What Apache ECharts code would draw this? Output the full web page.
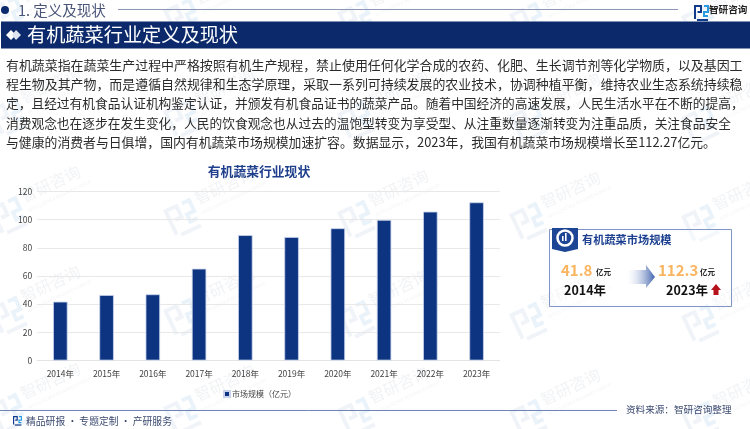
<!DOCTYPE html>
<html>
<head>
<meta charset="utf-8">
<style>
  html, body { margin: 0; padding: 0; background: #fff; }
  #chart { width: 750px; height: 429px; }
</style>
<script src="https://cdn.jsdelivr.net/npm/echarts@6/dist/echarts.min.js"></script>
</head>
<body>
<div id="chart"></div>
<script>
const categories = ['2014年', '2015年', '2016年', '2017年', '2018年', '2019年', '2020年', '2021年', '2022年', '2023年'];
const marketSize = [41.8, 46.5, 47, 65.2, 89, 87.7, 93.9, 99.8, 105.7, 112.3];
const seriesName = '市场规模（亿元）';
const chartTitle = '有机蔬菜行业现状';
const bodyLines = [
  '有机蔬菜指在蔬菜生产过程中严格按照有机生产规程，禁止使用任何化学合成的农药、化肥、生长调节剂等化学物质，以及基因工',
  '程生物及其产物，而是遵循自然规律和生态学原理，采取一系列可持续发展的农业技术，协调种植平衡，维持农业生态系统持续稳',
  '定，且经过有机食品认证机构鉴定认证，并颁发有机食品证书的蔬菜产品。随着中国经济的高速发展，人民生活水平在不断的提高，',
  '消费观念也在逐步在发生变化，人民的饮食观念也从过去的温饱型转变为享受型、从注重数量逐渐转变为注重品质，关注食品安全',
  '与健康的消费者与日俱增，国内有机蔬菜市场规模加速扩容。数据显示，2023年，我国有机蔬菜市场规模增长至112.27亿元。'
];

const FONT = '"Noto Sans CJK SC", "Noto Sans", sans-serif';
const NAVY = '#0c2a6b';
const BAR = '#0d3481';

function txt(x, y, text, size, fill, extra) {
  return {
    type: 'text', x: x, y: y,
    style: Object.assign({ text: text, font: size + 'px ' + FONT, fill: fill, textVerticalAlign: 'middle' }, extra || {})
  };
}
function bold(x, y, text, size, fill, extra) {
  const t = txt(x, y, text, size, fill, extra);
  t.style.font = 'bold ' + t.style.font;
  return t;
}
function line(x1, y1, x2, y2, color, w) {
  return { type: 'line', shape: { x1: x1, y1: y1, x2: x2, y2: y2 }, style: { stroke: color, lineWidth: w } };
}
// logo made of three strokes, s = scale of a 14x16 box
function logo(x, y, s, c1, c2, z) {
  const st = c => ({ stroke: c, fill: null, lineWidth: 2, lineJoin: 'miter' });
  const pl = (pts, c) => ({ type: 'polyline', x: x, y: y, scaleX: s, scaleY: s, z: z, shape: { points: pts }, style: st(c) });
  return [
    pl([[1, 14], [1, 1], [7, 1], [7, 7], [3.5, 7]], c1),
    pl([[10, 1], [14, 1], [14, 7], [10, 7], [10, 11], [14, 11]], c2),
    pl([[3, 15], [14, 15]], c1)
  ];
}
function watermark(x, y) {
  return {
    type: 'group', x: x, y: y, rotation: 0.44, z: -1, silent: true,
    children: logo(-18, -16, 2, '#f0f4f9', '#ebf3fa', -1).concat([
      txt(16, -12, '智研咨询', 16, '#f2f3f5'),
      txt(16, 3, 'INTELLIGENCE RESEARCH GROUP', 4.5, '#f2f3f5')
    ]).map(e => Object.assign(e, { z: -1 }))
  };
}

const graphics = [];
// watermarks
[15, 116, 215, 315, 412].forEach(row => {
  [12, 186, 360, 532, 704].forEach((col, i) => {
    graphics.push(watermark(col, row + i * 2));
  });
});
// header
graphics.push({ type: 'circle', shape: { cx: 5, cy: 10, r: 4 }, style: { fill: NAVY } });
graphics.push(txt(18, 10, '1. 定义及现状', 14.5, '#4a5578'));
graphics.push(line(118, 9.5, 678, 9.5, '#8c97b5', 1));
logo(694, 5, 1, '#123a8c', '#2a9be0', 1).forEach(e => graphics.push(e));
graphics.push(bold(709, 9, '智研咨询', 9.6, '#222'));
// title band
graphics.push({ type: 'rect', shape: { x: 1, y: 21.5, width: 749, height: 27 }, style: { fill: NAVY } });
graphics.push({ type: 'polygon', shape: { points: [[6, 35], [11, 30], [16, 35], [11, 40]] }, style: { fill: '#fff' } });
graphics.push({ type: 'polygon', shape: { points: [[12, 35], [16, 30], [21, 35], [16, 40]] }, style: { fill: '#dfe5f0' } });
graphics.push(txt(27, 35, '有机蔬菜行业定义及现状', 19.2, '#fff'));
// body text
const lineY = [65, 84, 103, 123, 142];
const lineSize = [12.93, 12.93, 12.72, 12.72, 12.85];
bodyLines.forEach((t, i) => graphics.push(txt(6, lineY[i], t, lineSize[i], '#2b2b2b')));
// summary box
graphics.push({ type: 'rect', shape: { x: 549.5, y: 229.5, width: 182, height: 77 }, style: { fill: 'rgba(255,255,255,0.35)', stroke: '#7f95c6', lineWidth: 1 } });
graphics.push({ type: 'polygon', shape: { points: [[552, 228], [578, 228], [578, 249], [565, 252], [552, 249]] }, style: { fill: '#1d4596' } });
graphics.push({ type: 'circle', shape: { cx: 565, cy: 238, r: 7.5 }, style: { fill: 'none', stroke: '#fff', lineWidth: 2.5 } });
graphics.push({ type: 'rect', shape: { x: 562, y: 236, width: 1.6, height: 5 }, style: { fill: '#fff' } });
graphics.push({ type: 'rect', shape: { x: 565, y: 233, width: 1.6, height: 8 }, style: { fill: '#fff' } });
graphics.push(bold(582, 240, '有机蔬菜市场规模', 11.2, '#1d4190'));
graphics.push(bold(561, 270, '41.8', 15, '#fbb45f'));
graphics.push(bold(596, 272, '亿元', 7.5, '#222'));
graphics.push(bold(564, 290, '2014年', 12.5, '#111'));
graphics.push({
  type: 'polygon',
  shape: { points: [[627, 270], [646, 270], [646, 265], [655, 277], [646, 288], [646, 284], [627, 284]] },
  style: { fill: new echarts.graphic.LinearGradient(0, 0, 1, 0, [{ offset: 0, color: 'rgba(255,255,255,0.2)' }, { offset: 1, color: '#3f62ad' }]) }
});
graphics.push(bold(658, 270, '112.3', 15, '#fbb45f'));
graphics.push(bold(700, 272, '亿元', 7.5, '#222'));
graphics.push(bold(666, 290, '2023年', 12.5, '#111'));
graphics.push({ type: 'polygon', shape: { points: [[716, 284], [721, 290], [718.5, 290], [718.5, 295], [713.5, 295], [713.5, 290], [711, 290]] }, style: { fill: '#b5121b' } });
// footer
graphics.push(line(0, 410.5, 617, 410.5, '#6f83b5', 1));
logo(13, 416, 0.6, '#123a8c', '#2a9be0', 1).forEach(e => graphics.push(e));
graphics.push(txt(26, 421, '精品研报 · 专题定制 · 产研服务', 9.8, '#3c4a70'));
graphics.push(txt(626, 409, '资料来源：智研咨询整理', 9.6, '#3c4a70'));

const chart = echarts.init(document.getElementById('chart'));
chart.setOption({
  animation: false,
  textStyle: { fontFamily: FONT },
  title: {
    text: chartTitle, left: 254, top: 160, textAlign: 'center',
    textStyle: { fontSize: 12.8, fontWeight: 'bold', color: '#1f3f8c', fontFamily: FONT }
  },
  grid: { left: 37.2, right: 250.3, top: 191.5, bottom: 68.5 },
  legend: {
    data: [seriesName], left: 218, top: 385, icon: 'rect', itemWidth: 6, itemHeight: 6, itemGap: 3,
    textStyle: { fontSize: 8, color: '#444', padding: [0, 0, 0, -3] }
  },
  xAxis: {
    type: 'category', data: categories,
    axisTick: { show: false },
    axisLine: { lineStyle: { color: '#e4e4e4', width: 1 } },
    axisLabel: { fontSize: 8.5, color: '#444', margin: 9, interval: 0 }
  },
  yAxis: {
    type: 'value', min: 0, max: 120, interval: 20,
    axisLine: { show: false }, axisTick: { show: false },
    axisLabel: { fontSize: 8.5, color: '#444', margin: 5 },
    splitLine: { lineStyle: { color: '#e8e8e8', width: 1 } }
  },
  series: [{
    name: seriesName, type: 'bar', data: marketSize, barWidth: 14.5,
    itemStyle: { color: BAR, borderColor: '#c9d4ec', borderWidth: 0.8 }
  }],
  graphic: { elements: graphics }
});
</script>
</body>
</html>
